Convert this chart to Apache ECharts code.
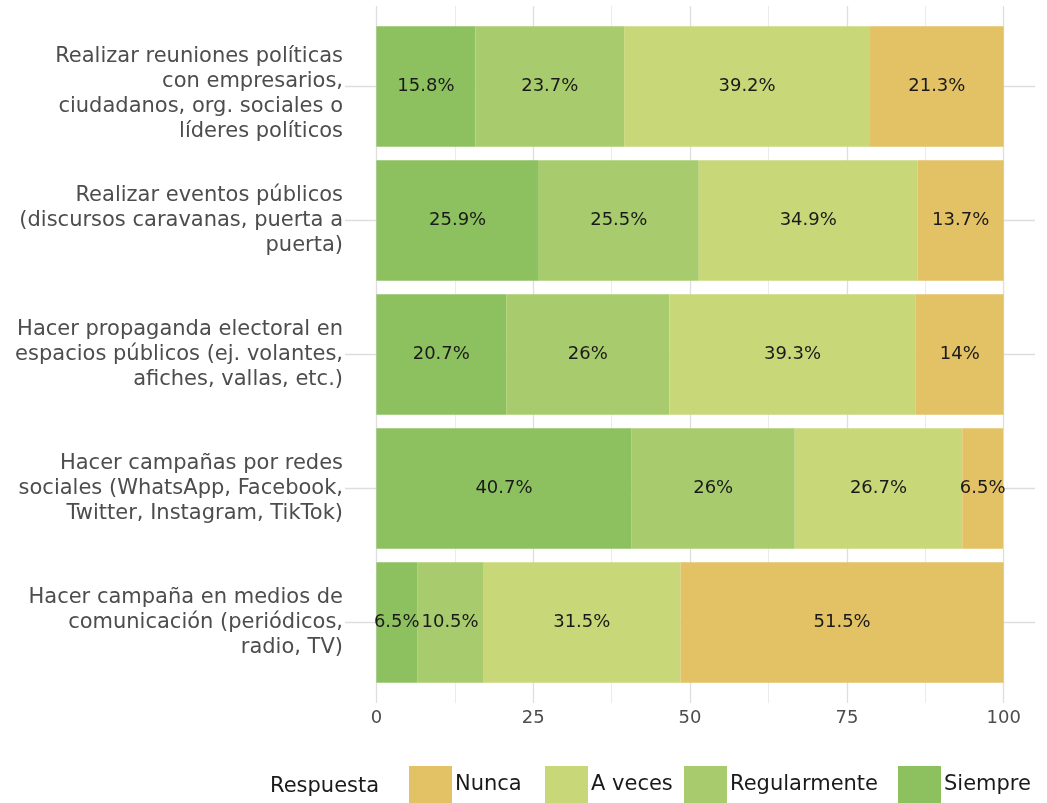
<!DOCTYPE html>
<html>
<head>
<meta charset="utf-8">
<script src="https://cdn.jsdelivr.net/npm/echarts@6/dist/echarts.min.js"></script>
<style>
  html, body { margin: 0; padding: 0; background: #fff; }
  #main { width: 1047px; height: 803px; }
</style>
</head>
<body>
<div id="main"></div>
<script>
// categorias (de arriba hacia abajo)
var categorias = [
  'Realizar reuniones políticas\ncon empresarios,\nciudadanos, org. sociales o\nlíderes políticos',
  'Realizar eventos públicos\n(discursos caravanas, puerta a\npuerta)',
  'Hacer propaganda electoral en\nespacios públicos (ej. volantes,\nafiches, vallas, etc.)',
  'Hacer campañas por redes\nsociales (WhatsApp, Facebook,\nTwitter, Instagram, TikTok)',
  'Hacer campaña en medios de\ncomunicación (periódicos,\nradio, TV)'
]
var siempre = [15.8, 25.9, 20.7, 40.7, 6.5]
var regularmente = [23.7, 25.5, 26, 26, 10.5]
var aVeces = [39.2, 34.9, 39.3, 26.7, 31.5]
var nunca = [21.3, 13.7, 14, 6.5, 51.5]
var ticksX = [0, 25, 50, 75, 100]

var fuente = 'DejaVu Sans'
var colores = { 'Siempre': '#8dc15f', 'Regularmente': '#a8cc6d', 'A veces': '#c8d878', 'Nunca': '#e3c165' }

function serie(nombre, datos) {
  return {
    name: nombre, type: 'bar', stack: 'total',
    xAxisIndex: 0, yAxisIndex: 0,
    barCategoryGap: '10%',
    itemStyle: { color: colores[nombre] },
    label: {
      show: true, position: 'inside', color: '#1a1a1a',
      fontFamily: fuente, fontSize: 18,
      formatter: function (p) { return p.value + '%' }
    },
    emphasis: { disabled: true },
    data: datos
  }
}

// una leyenda por item para poder ubicarlas
var posLeyenda = [['Nunca', 404], ['A veces', 540], ['Regularmente', 679], ['Siempre', 893]]
var leyendas = posLeyenda.map(function (l) {
  return {
    data: [l[0]], left: l[1], top: 761, orient: 'horizontal',
    itemWidth: 43, itemHeight: 38, itemGap: 0,
    icon: 'rect', selectedMode: false,
    textStyle: { fontFamily: fuente, fontSize: 21, color: '#1a1a1a', padding: [4, 0, 0, -2] }
  }
})

var chart = echarts.init(document.getElementById('main'))
chart.setOption({
  animation: false,
  backgroundColor: '#fff',
  legend: leyendas,
  graphic: [{
    type: 'text', left: 270, top: 776,
    style: { text: 'Respuesta', fontFamily: fuente, fontSize: 21, fill: '#1a1a1a' }
  }],
  grid: [
    // barras
    { left: 345, top: 19.5, width: 690, height: 670 },
    // lineas verticales + etiquetas x
    { left: 376.4, top: 6, width: 627.3, height: 697 },
    // lineas horizontales
    { left: 345, top: 86.5, width: 690, height: 536 }
  ],
  xAxis: [
    { gridIndex: 0, type: 'value', min: -5, max: 105, show: false },
    {
      gridIndex: 1, type: 'value', min: 0, max: 100, interval: 25,
      axisLine: { show: false }, axisTick: { show: false },
      axisLabel: {
        margin: 6, fontFamily: fuente, fontSize: 18, color: '#4d4d4d',
        customValues: ticksX
      },
      splitLine: { show: true, lineStyle: { color: '#dedede', width: 1.3 } },
      minorTick: { show: false, splitNumber: 2 },
      minorSplitLine: { show: true, lineStyle: { color: '#ebebeb', width: 1 } }
    },
    { gridIndex: 2, type: 'value', min: 0, max: 1, show: false }
  ],
  yAxis: [
    {
      gridIndex: 0, type: 'category', inverse: true, data: categorias,
      axisLine: { show: false }, axisTick: { show: false },
      axisLabel: {
        margin: 2, fontFamily: fuente, fontSize: 21, color: '#4d4d4d',
        lineHeight: 25, align: 'right',
        // la etiqueta de 4 lineas va un poco mas abajo
        formatter: function (v) {
          return v.split('\n').length > 3 ? '{s| }\n' + v : v
        },
        rich: { s: { fontSize: 1, lineHeight: 16 } }
      }
    },
    { gridIndex: 1, type: 'value', min: 0, max: 1, show: false },
    {
      gridIndex: 2, type: 'value', min: 0, max: 4, interval: 1,
      axisLine: { show: false }, axisTick: { show: false }, axisLabel: { show: false },
      splitLine: { show: true, lineStyle: { color: '#dedede', width: 1.3 } }
    }
  ],
  series: [
    serie('Siempre', siempre),
    serie('Regularmente', regularmente),
    serie('A veces', aVeces),
    serie('Nunca', nunca)
  ]
})
</script>
</body>
</html>
